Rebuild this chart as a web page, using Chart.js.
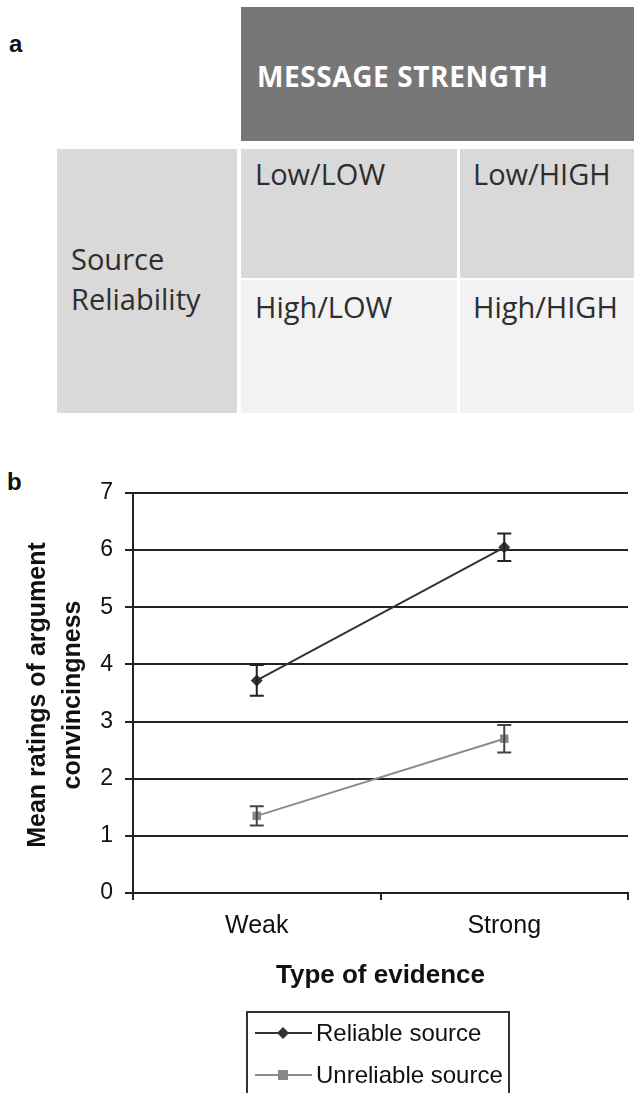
<!DOCTYPE html>
<html>
<head>
<meta charset="utf-8">
<script src="https://cdn.jsdelivr.net/npm/chart.js@4.4.1/dist/chart.umd.min.js"></script>
<style>
  html, body { margin:0; padding:0; background:#fff; }
  body { width:634px; height:1093px; position:relative; overflow:hidden; }
  .lab { position:absolute; font-family:"Liberation Sans", Arial, sans-serif; font-weight:bold; font-size:24px; line-height:24px; color:#111; }
  .box { position:absolute; }
  .t { position:absolute; font-family:"Open Sans", sans-serif; font-size:29px; line-height:29px; color:#2e2e2e; white-space:nowrap; }
  #chartWrap { position:absolute; left:0; top:440px; width:634px; height:653px; }
</style>
</head>
<body>
<div class="lab" style="left:9px; top:32px;">a</div>
<div class="box" style="left:241px; top:7px; width:393px; height:134px; background:#777;"></div>
<div class="t" style="left:257px; top:62px; font-weight:bold; font-size:28px; line-height:28px; letter-spacing:0.6px; color:#fff;">MESSAGE STRENGTH</div>
<div class="box" style="left:57px; top:149px; width:180px; height:264px; background:#d9d9d9;"></div>
<div class="box" style="left:241px; top:149px; width:216px; height:129px; background:#d9d9d9;"></div>
<div class="box" style="left:460px; top:149px; width:174px; height:129px; background:#d9d9d9;"></div>
<div class="box" style="left:241px; top:280px; width:216px; height:133px; background:#f2f2f2;"></div>
<div class="box" style="left:460px; top:280px; width:174px; height:133px; background:#f2f2f2;"></div>
<div class="t" style="left:71px; top:244px;">Source</div>
<div class="t" style="left:71px; top:284px;">Reliability</div>
<div class="t" style="left:255px; top:159px;">Low/LOW</div>
<div class="t" style="left:473px; top:159px;">Low/HIGH</div>
<div class="t" style="left:255px; top:292px;">High/LOW</div>
<div class="t" style="left:473px; top:292px;">High/HIGH</div>
<div class="lab" style="left:7px; top:470px;">b</div>
<div id="chartWrap"><canvas id="c" width="634" height="653"></canvas></div>
<script>
const categories = ['Weak', 'Strong'];
const reliableMeans = [3.72, 6.05];
const reliableErrors = [0.27, 0.24];
const unreliableMeans = [1.35, 2.70];
const unreliableErrors = [0.17, 0.24];
const yTicks = [0, 1, 2, 3, 4, 5, 6, 7];
const seriesNames = ['Reliable source', 'Unreliable source'];
const yTitleLines = ['Mean ratings of argument', 'convincingness'];
const xTitle = 'Type of evidence';

const FONT = '"Liberation Sans", Arial, sans-serif';

const errorBars = {
  id: 'errorBars',
  afterDatasetsDraw(chart) {
    const ctx = chart.ctx;
    const y = chart.scales.y;
    chart.data.datasets.forEach((ds, i) => {
      const meta = chart.getDatasetMeta(i);
      ctx.save();
      ctx.strokeStyle = ds.errColor;
      ctx.lineWidth = 2;
      meta.data.forEach((pt, j) => {
        const v = ds.data[j], e = ds.errors[j];
        const yt = y.getPixelForValue(v + e), yb = y.getPixelForValue(v - e);
        const x = pt.x;
        ctx.beginPath();
        ctx.moveTo(x, yt); ctx.lineTo(x, yb);
        ctx.moveTo(x - 7, yt); ctx.lineTo(x + 7, yt);
        ctx.moveTo(x - 7, yb); ctx.lineTo(x + 7, yb);
        ctx.stroke();
      });
      ctx.restore();
    });
  }
};

const extras = {
  id: 'extras',
  afterDraw(chart) {
    const ctx = chart.ctx;
    const area = chart.chartArea;
    ctx.save();
    ctx.fillStyle = '#111';
    ctx.font = 'bold 25px ' + FONT;
    ctx.textAlign = 'center';
    ctx.textBaseline = 'middle';
    const cy = (area.top + area.bottom) / 2 + 2;
    ctx.translate(38, cy);
    ctx.rotate(-Math.PI / 2);
    ctx.fillText(yTitleLines[0], 0, 0);
    ctx.fillText(yTitleLines[1], 0, 35);
    ctx.restore();

    ctx.save();
    ctx.fillStyle = '#111';
    ctx.font = 'bold 26px ' + FONT;
    ctx.textAlign = 'center';
    ctx.textBaseline = 'alphabetic';
    const xs = chart.scales.x;
    const midX = (xs.getPixelForValue(0) + xs.getPixelForValue(1)) / 2;
    ctx.fillText(xTitle, midX, area.bottom + 90);
    ctx.restore();

    ctx.save();
    const lx = 247, ly = area.bottom + 119, lw = 262, lh = 120;
    ctx.strokeStyle = '#333';
    ctx.lineWidth = 2;
    ctx.strokeRect(lx, ly, lw, lh);
    const rows = [ly + 21, ly + 63];
    chart.data.datasets.forEach((ds, i) => {
      const ry = rows[i];
      ctx.strokeStyle = ds.borderColor;
      ctx.lineWidth = 2;
      ctx.beginPath();
      ctx.moveTo(255, ry); ctx.lineTo(312, ry);
      ctx.stroke();
      ctx.fillStyle = ds.pointBackgroundColor;
      ctx.beginPath();
      if (ds.pointStyle === 'rectRot') {
        ctx.moveTo(283, ry - 6); ctx.lineTo(289, ry); ctx.lineTo(283, ry + 6); ctx.lineTo(277, ry);
      } else {
        ctx.rect(278, ry - 5, 10, 10);
      }
      ctx.closePath();
      ctx.fill();
      ctx.fillStyle = '#111';
      ctx.font = '24px ' + FONT;
      ctx.textAlign = 'left';
      ctx.textBaseline = 'middle';
      ctx.fillText(ds.label, 316, ry + 1);
    });
    ctx.restore();
  }
};

new Chart(document.getElementById('c'), {
  type: 'line',
  data: {
    labels: categories,
    datasets: [
      {
        label: seriesNames[0],
        data: reliableMeans,
        errors: reliableErrors,
        errColor: '#222',
        borderColor: '#333',
        borderWidth: 2,
        pointStyle: 'rectRot',
        pointRadius: 6,
        pointBackgroundColor: '#333',
        pointBorderColor: '#333',
        pointBorderWidth: 0,
        tension: 0
      },
      {
        label: seriesNames[1],
        data: unreliableMeans,
        errors: unreliableErrors,
        errColor: '#444',
        borderColor: '#8c8c8c',
        borderWidth: 2,
        pointStyle: 'rect',
        pointRadius: 6,
        pointBackgroundColor: '#888',
        pointBorderColor: '#888',
        pointBorderWidth: 0,
        tension: 0
      }
    ]
  },
  options: {
    responsive: false,
    animation: false,
    layout: { padding: { top: 53, left: 0, right: 0, bottom: 0 } },
    plugins: { legend: { display: false }, tooltip: { enabled: false }, title: { display: false } },
    scales: {
      x: {
        type: 'category',
        offset: true,
        afterFit(axis) { axis.height = 200; },
        grid: { drawOnChartArea: false, drawTicks: true, tickLength: 7, color: '#222', lineWidth: 2, offset: true },
        border: { display: true, color: '#222', width: 2 },
        ticks: { color: '#111', font: { family: FONT, size: 25 }, padding: 11, maxRotation: 0 }
      },
      y: {
        min: 0,
        max: 7,
        afterFit(axis) { axis.width = 133; },
        afterBuildTicks(axis) { axis.ticks = yTicks.map(v => ({ value: v })); },
        grid: { color: '#222', lineWidth: 2, drawTicks: true, tickLength: 8 },
        border: { display: true, color: '#222', width: 2 },
        ticks: { color: '#111', font: { family: FONT, size: 23 }, padding: 12 }
      }
    }
  },
  plugins: [errorBars, extras]
});
</script>
</body>
</html>
